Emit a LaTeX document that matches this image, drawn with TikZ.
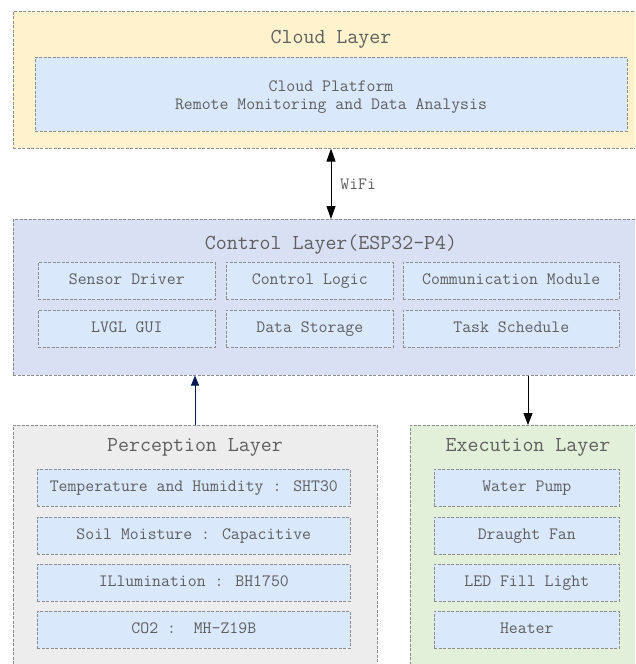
\documentclass[tikz,border=0pt]{standalone}
\usetikzlibrary{arrows.meta,calc}
\definecolor{txt}{HTML}{5E5E5E}
\definecolor{brd}{HTML}{8C8C8C}
\definecolor{cloudbg}{HTML}{FFF2CC}
\definecolor{itembg}{HTML}{DAE8FC}
\definecolor{ctrlbg}{HTML}{DAE0F4}
\definecolor{percbg}{HTML}{EDEDED}
\definecolor{execbg}{HTML}{E2EFD9}
\definecolor{navy}{HTML}{001A4D}
\tikzset{
  layerbox/.style={draw=brd, line width=0.6pt, dash pattern=on 3pt off 1.5pt, anchor=north west, inner sep=0pt},
  itembox/.style={draw=brd, fill=itembg, line width=0.6pt, dash pattern=on 3pt off 1.5pt, anchor=north west, inner sep=0pt, text=txt, font=\ttfamily\fontsize{17.3}{19.5}\selectfont, align=center, text height=1.85ex, text depth=0.2ex},
  titletext/.style={text=txt, font=\ttfamily\fontsize{21.3}{23}\selectfont, inner sep=0pt},
  conn/.style={line width=0.8pt}
}
\begin{document}
\begin{tikzpicture}[x=1pt,y=-1pt]
\useasboundingbox (0,0) rectangle (635,664);
\clip (0,0) rectangle (635,664);
% Cloud layer
\node[layerbox, fill=cloudbg, minimum width=640, minimum height=137] (cloud) at (13,11) {};
\node[titletext] (cloudt) at (331,39) {Cloud Layer};
\node[itembox, minimum width=592, minimum height=74, text height=, text depth=] (cloudp) at (35,57) {};
\node[text=txt, font=\ttfamily\fontsize{17.3}{17.5}\selectfont, align=center] (cloudpt) at (331,97) {Cloud Platform\\Remote Monitoring and Data Analysis};
% Control layer
\node[layerbox, fill=ctrlbg, minimum width=640, minimum height=156] (ctrl) at (13,219) {};
\node[titletext] (ctrlt) at (331,245) {Control Layer(ESP32-P4)};
\node[itembox, minimum width=177, minimum height=37] (sd) at (38,262) {Sensor Driver};
\node[itembox, minimum width=167, minimum height=37] (cl) at (226,262) {Control Logic};
\node[itembox, minimum width=216, minimum height=37] (cm) at (403,262) {Communication Module};
\node[itembox, minimum width=177, minimum height=37] (gui) at (38,310) {LVGL GUI};
\node[itembox, minimum width=167, minimum height=37] (ds) at (226,310) {Data Storage};
\node[itembox, minimum width=216, minimum height=37] (ts) at (403,310) {Task Schedule};
% Perception layer
\node[layerbox, fill=percbg, minimum width=364, minimum height=260] (perc) at (13,425) {};
\node[titletext] (perct) at (195,447) {Perception Layer};
\node[itembox, minimum width=313, minimum height=37] (p1) at (37,469) {Temperature and Humidity : SHT30};
\node[itembox, minimum width=313, minimum height=37] (p2) at (37,517) {Soil Moisture : Capacitive};
\node[itembox, minimum width=313, minimum height=37] (p3) at (37,564) {ILlumination : BH1750};
\node[itembox, minimum width=313, minimum height=37] (p4) at (37,611) {CO2 :\ \ MH-Z19B};
% Execution layer
\node[layerbox, fill=execbg, minimum width=240, minimum height=260] (exec) at (410,425) {};
\node[titletext] (exect) at (528,447) {Execution Layer};
\node[itembox, minimum width=185, minimum height=37] (e1) at (434,469) {Water Pump};
\node[itembox, minimum width=185, minimum height=37] (e2) at (434,517) {Draught Fan};
\node[itembox, minimum width=185, minimum height=37] (e3) at (434,564) {LED Fill Light};
\node[itembox, minimum width=185, minimum height=37] (e4) at (434,611) {Heater};
% Connectors
\coordinate (xw) at (331,0);
\coordinate (xp) at (195,0);
\coordinate (xe) at (528,0);
\draw[conn, {Triangle[width=9pt,length=13pt]}-{Triangle[width=9pt,length=13pt]}] (xw |- cloud.south) -- (xw |- ctrl.north)
  node[midway, right=9pt, text=txt, font=\ttfamily\fontsize{17.3}{19}\selectfont, inner sep=0pt] (wifi) {WiFi};
\draw[conn, draw=navy, fill=navy, -{Triangle[width=8pt,length=10pt]}] (xp |- perc.north) -- (xp |- ctrl.south);
\draw[conn, -{Triangle[width=9pt,length=12pt]}] (xe |- ctrl.south) -- (xe |- exec.north);
\end{tikzpicture}
\end{document}
